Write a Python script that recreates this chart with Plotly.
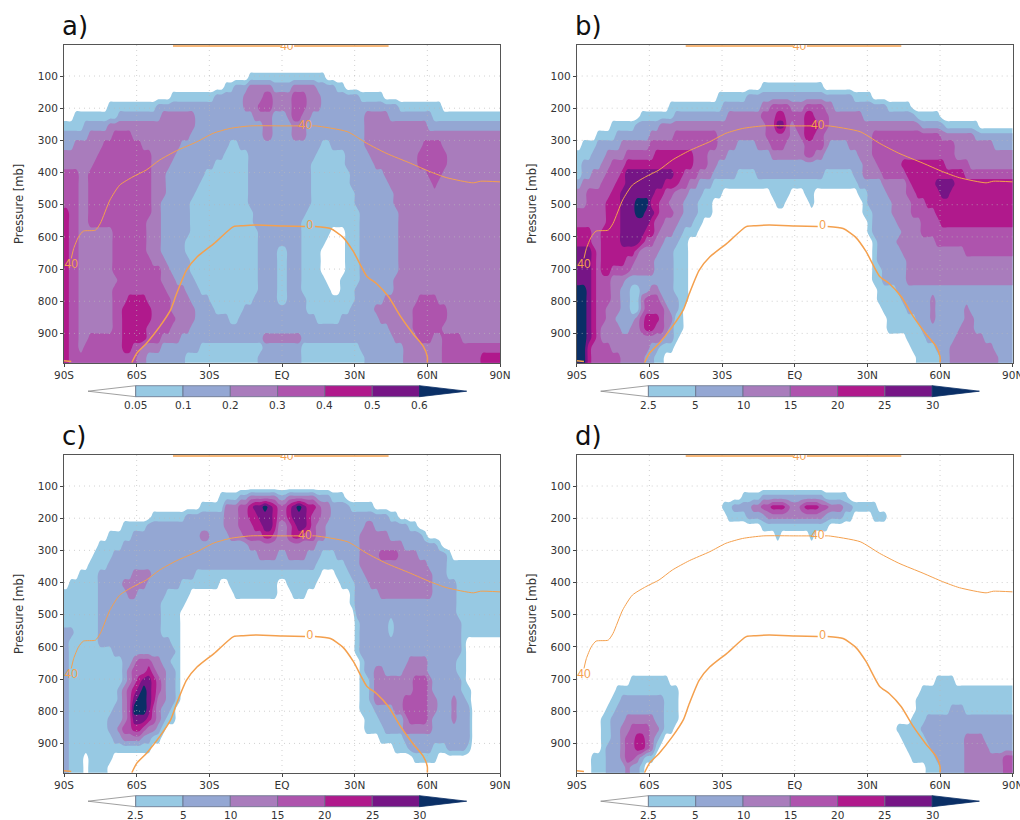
import plotly.graph_objects as go

# Each row is one pressure band; flat pairs "from this latitude onward, this colour bin" (0 = below lowest level)
PRESSURE_ROWS = [105 + 30 * i for i in range(30)]
LAT_CENTRES = list(range(-89, 90, 2))

RUNS_A = [
 [-14,1,18,0],
 [-24,1,-20,2,-14,3,-3,2,5,3,14,2,22,1,27,0],
 [-46,1,-28,2,-16,3,-8,4,-3,3,4,4,10,3,17,2,33,1,42,0],
 [-71,1,-52,2,-16,3,-9,4,-3,3,4,4,10,3,17,2,49,1,67,0],
 [-85,1,-68,2,-50,3,-35,2,-11,3,-3,2,3,3,5,4,9,3,12,2,34,3,44,2,62,1,90,1],
 [-90,1,-82,2,-71,3,-35,2,-8,3,-4,2,4,3,11,2,34,3,60,2,90,2],
 [-90,2,-79,3,-69,4,-62,3,-37,2,-8,3,-4,2,5,3,10,2,34,3,90,3],
 [-90,2,-85,3,-74,4,-57,3,-41,2,-21,1,-17,2,16,1,21,2,34,3,58,4,67,3,90,3],
 [-90,3,-76,4,-54,3,-44,2,-24,1,-14,2,14,1,26,2,37,3,56,4,69,3,90,3],
 [-90,3,-77,4,-53,3,-46,2,-28,1,-13,2,13,1,27,2,39,3,57,4,68,3,90,3],
 [-90,4,-83,3,-79,4,-53,3,-47,2,-31,1,-13,2,13,1,29,2,42,3,60,4,66,3,90,3],
 [-90,4,-83,3,-79,4,-53,3,-48,2,-33,1,-13,2,13,1,29,2,44,3,62,4,65,3,90,3],
 [-90,4,-83,3,-80,4,-53,3,-48,2,-36,1,-14,2,13,1,30,2,46,3,90,3],
 [-90,4,-83,3,-80,4,-54,3,-49,2,-37,1,-14,2,13,1,31,2,47,3,90,3],
 [-90,5,-88,4,-83,3,-80,4,-54,3,-49,2,-38,1,-12,2,11,1,32,2,48,3,90,3],
 [-90,5,-88,4,-83,3,-80,4,-55,3,-49,2,-38,1,-11,2,9,1,33,2,49,3,90,3],
 [-90,5,-88,4,-83,3,-69,4,-56,3,-49,2,-38,1,-9,2,8,1,20,0,26,1,33,2,49,3,90,3],
 [-90,5,-88,4,-83,3,-69,4,-56,3,-49,2,-39,1,-9,2,8,1,19,0,26,1,33,2,49,3,90,3],
 [-90,5,-88,4,-83,3,-69,4,-55,3,-49,2,-39,1,-9,2,-2,1,2,2,8,1,17,0,27,1,33,2,49,3,90,3],
 [-90,5,-88,4,-83,3,-69,4,-53,3,-47,2,-37,1,-10,2,-2,1,2,2,9,1,17,0,27,1,33,2,48,3,90,3],
 [-90,5,-88,4,-83,3,-69,4,-50,3,-45,2,-37,1,-10,2,-2,1,2,2,9,1,17,0,27,1,33,2,48,3,90,3],
 [-90,5,-88,4,-83,3,-68,4,-49,3,-43,2,-36,1,-10,2,-2,1,2,2,9,1,19,0,25,1,32,2,47,3,90,3],
 [-90,5,-88,4,-83,3,-69,4,-47,3,-40,2,-34,1,-10,2,-2,1,2,2,9,1,20,0,24,1,31,2,46,3,90,3],
 [-90,5,-88,4,-83,3,-69,4,-64,5,-56,4,-46,3,-37,2,-30,1,-12,2,-2,1,2,2,10,1,30,2,43,3,56,4,65,3,90,3],
 [-90,5,-88,4,-83,3,-69,4,-65,5,-53,4,-45,3,-36,2,-28,1,-15,2,11,1,29,2,38,3,54,4,68,3,90,3],
 [-90,5,-88,4,-83,3,-69,4,-66,5,-53,4,-44,3,-35,2,-21,1,-18,2,14,1,25,2,41,3,54,4,68,3,90,3],
 [-90,5,-88,4,-83,3,-69,4,-66,5,-55,4,-46,3,-38,2,45,3,55,4,67,3,90,3],
 [-90,5,-88,4,-84,3,-79,4,-66,5,-56,4,-50,3,-41,2,-8,3,8,2,46,3,56,4,62,3,67,4,74,3,90,3],
 [-90,5,-88,4,-84,3,-81,4,-65,5,-61,4,-57,3,-49,2,-34,1,-8,2,8,1,32,2,50,3,66,4,90,4],
 [-90,5,-88,4,-60,3,-56,2,-40,1,-9,2,8,1,34,2,51,3,66,4,82,5,90,5],
]

RUNS_B = [
 [],
 [-13,1,13,0],
 [-31,1,-20,2,24,1,32,0],
 [-51,1,-29,2,-13,3,-9,4,-2,3,4,4,12,3,17,2,38,1,48,0],
 [-64,1,-49,2,-28,3,-13,4,-8,5,-4,4,0,3,1,4,5,5,9,4,14,3,29,2,50,1,60,0],
 [-75,1,-66,2,-56,3,-12,4,-8,6,-4,4,-1,3,1,4,4,5,10,4,14,3,52,2,63,1,76,0],
 [-81,1,-73,2,-60,3,-50,4,-32,3,-11,4,-1,3,2,4,4,5,9,4,13,3,32,4,61,3,75,2,90,2],
 [-87,1,-81,2,-71,3,-60,4,-32,3,-23,2,-15,3,-9,4,-3,3,4,4,12,3,15,2,23,3,33,4,67,3,82,2,90,2],
 [-90,1,-84,2,-78,3,-70,4,-58,5,-42,4,-35,3,-28,2,-10,3,4,4,9,3,13,2,26,3,33,4,67,3,90,3],
 [-90,1,-87,2,-80,3,-76,4,-69,5,-42,4,-36,3,-31,2,28,3,34,4,44,5,62,4,72,3,90,3],
 [-90,1,-87,2,-83,3,-78,4,-72,5,-69,6,-50,5,-45,4,-39,3,-34,2,-28,2,-23,1,-15,2,13,1,24,2,28,3,36,4,46,5,71,4,90,4],
 [-90,2,-88,3,-80,4,-73,5,-69,6,-54,5,-47,4,-44,3,-39,2,-33,1,26,2,36,3,46,4,49,5,58,6,66,5,90,5],
 [-90,3,-86,4,-76,5,-71,6,-58,5,-53,4,-50,3,-43,2,-38,1,-29,0,-9,1,-1,0,4,1,9,0,27,1,30,2,38,3,46,4,51,5,60,6,65,5,90,5],
 [-90,3,-85,4,-77,5,-71,6,-66,7,-60,6,-59,5,-56,4,-52,3,-46,2,-40,1,-34,0,-7,1,-3,0,6,1,9,0,28,1,30,2,40,3,48,4,55,5,90,5],
 [-90,4,-78,5,-71,6,-66,7,-61,6,-58,5,-55,4,-50,3,-45,2,-39,1,-33,0,29,1,32,2,41,3,49,4,58,5,90,5],
 [-90,4,-78,5,-71,6,-60,5,-57,4,-53,3,-48,2,-42,1,-37,0,30,1,32,2,43,3,52,4,61,5,90,5],
 [-90,5,-84,4,-79,5,-71,6,-62,5,-58,4,-55,3,-50,2,-45,1,-40,0,30,1,32,2,45,3,53,4,90,4],
 [-90,5,-84,4,-79,5,-71,6,-64,5,-61,4,-58,3,-53,2,-47,1,-43,0,32,1,34,2,43,3,59,4,90,4],
 [-90,6,-84,5,-81,4,-79,5,-66,4,-63,3,-55,2,-49,1,-43,0,32,1,34,2,45,3,70,4,90,4],
 [-90,6,-84,5,-82,4,-79,5,-70,4,-65,3,-57,2,-49,1,-43,0,33,1,35,2,46,3,90,3],
 [-90,6,-84,5,-82,4,-79,5,-75,4,-68,3,-58,2,-50,1,-43,0,33,1,36,2,46,3,90,3],
 [-90,6,-84,5,-82,4,-75,3,-70,2,-50,1,-43,0,33,1,37,2,46,3,90,3],
 [-90,7,-86,6,-84,5,-82,4,-76,3,-71,2,-68,1,-63,2,-60,3,-56,2,-50,1,-44,0,34,1,43,2,90,2],
 [-90,7,-86,6,-84,5,-82,4,-76,3,-72,2,-68,1,-63,3,-61,4,-56,3,-53,2,-48,1,-44,0,35,1,44,2,56,3,59,2,90,2],
 [-90,7,-86,6,-84,5,-82,4,-77,3,-71,2,-68,1,-63,3,-61,4,-54,3,-52,2,-48,1,-45,0,36,1,47,2,56,3,59,2,70,3,73,2,90,2],
 [-90,7,-86,6,-84,5,-82,4,-78,3,-74,2,-66,3,-64,4,-61,5,-56,4,-53,3,-50,2,-49,1,-45,0,38,1,50,2,56,3,59,2,70,3,74,2,90,2],
 [-90,7,-86,6,-84,5,-82,4,-80,3,-72,2,-68,3,-63,4,-61,5,-57,4,-54,3,-52,2,-49,1,-46,0,39,1,52,2,69,3,75,2,90,2],
 [-90,7,-86,6,-84,5,-82,4,-79,3,-54,2,-50,1,-47,0,46,1,55,2,67,3,78,2,90,2],
 [-90,7,-86,5,-83,4,-76,3,-60,2,-55,1,-50,0,49,1,58,2,65,3,82,2,90,2],
 [-90,7,-86,5,-84,4,-72,3,-62,2,-58,1,-54,0,50,1,60,2,65,3,84,2,90,2],
]

RUNS_C = [
 [],
 [-25,1,-17,2,-13,3,-1,2,2,3,14,2,20,1,26,0],
 [-34,1,-23,3,-17,4,-14,5,-11,6,-8,7,-6,6,-3,5,-1,4,2,5,4,6,6,7,8,6,11,5,14,4,16,3,20,2,29,1,39,0],
 [-53,1,-39,2,-23,3,-17,4,-14,5,-10,6,-3,5,-1,4,3,5,4,6,10,5,13,4,16,3,20,2,44,1,49,0],
 [-65,1,-55,2,-23,3,-17,4,-12,5,-8,6,-3,5,-1,3,3,4,5,5,6,6,10,5,12,4,14,3,19,2,34,3,38,2,53,1,57,0],
 [-71,1,-62,2,-33,3,-29,2,-21,3,-15,4,-8,5,-3,4,-1,3,2,4,4,5,9,4,14,3,18,2,32,3,45,2,59,1,61,0],
 [-75,1,-66,2,-14,3,14,2,32,3,50,2,64,1,67,0],
 [-77,1,-70,2,-10,3,-2,2,2,3,11,2,17,1,23,2,32,3,40,4,48,3,57,2,68,1,71,0],
 [-80,1,-72,2,14,1,27,2,33,3,61,2,69,1,90,1],
 [-84,1,-75,2,-62,3,-54,2,-35,1,16,0,23,1,29,2,35,3,62,2,69,1,90,1],
 [-88,1,-76,2,-65,3,-55,2,-42,1,-26,0,-22,1,-2,0,3,1,14,0,24,1,30,2,37,3,62,2,73,1,90,1],
 [-90,1,-76,2,-63,3,-60,2,-47,1,-38,0,-19,1,-2,0,5,1,10,0,28,1,30,2,41,3,62,2,73,1,90,1],
 [-90,1,-76,2,-49,1,-40,0,29,1,31,2,73,1,90,1],
 [-90,1,-76,2,-50,1,-42,0,30,1,31,2,73,1,90,1],
 [-90,1,-76,2,-49,1,-42,0,31,1,32,2,44,1,47,2,74,1,90,1],
 [-90,2,-85,1,-76,2,-49,1,-42,0,31,1,32,2,44,1,47,2,75,1,90,1],
 [-90,2,-87,1,-76,2,-46,1,-42,0,31,1,33,2,74,1,76,0],
 [-90,2,-87,1,-70,2,-44,1,-42,0,31,1,33,2,74,1,77,0],
 [-90,2,-87,1,-65,2,-62,3,-59,4,-53,3,-49,2,-45,1,-42,0,32,1,34,2,53,3,60,2,72,1,76,0],
 [-90,2,-87,1,-66,2,-63,3,-61,4,-56,5,-54,4,-52,3,-48,2,-44,1,-42,0,32,1,34,2,38,3,42,2,50,3,60,2,73,1,77,0],
 [-90,2,-87,1,-66,2,-64,3,-61,4,-59,5,-57,6,-54,5,-52,4,-50,3,-47,2,-43,1,-42,0,32,1,36,2,38,3,55,4,60,3,62,2,74,1,77,0],
 [-90,2,-87,1,-67,2,-65,3,-63,4,-61,5,-60,6,-58,7,-55,6,-53,5,-52,4,-50,3,-47,2,-43,1,-42,0,32,1,36,2,39,3,54,4,61,3,63,2,75,1,78,0],
 [-90,2,-87,1,-68,2,-66,3,-64,4,-62,5,-61,6,-60,7,-55,6,-54,5,-52,4,-51,3,-47,2,-44,1,-42,0,33,1,37,2,39,3,51,4,60,3,64,2,70,3,72,2,76,1,78,0],
 [-90,2,-87,1,-70,2,-65,3,-63,4,-62,5,-61,7,-56,6,-54,5,-53,4,-52,3,-49,2,-45,1,-43,0,33,1,38,2,47,3,51,4,60,3,64,2,70,3,73,2,78,1,79,0],
 [-90,2,-87,1,-71,2,-66,3,-63,4,-62,5,-61,6,-56,5,-54,4,-52,3,-49,2,-47,1,-44,0,34,1,40,2,50,3,52,4,60,3,63,2,70,3,73,2,78,1,79,0],
 [-90,2,-87,1,-72,2,-68,3,-65,4,-62,5,-58,4,-55,3,-52,2,-49,1,-47,0,35,1,42,2,51,3,62,2,78,1,79,0],
 [-90,2,-87,1,-70,2,-66,3,-57,2,-53,1,-50,0,40,1,50,2,78,1,79,0],
 [-90,2,-87,1,-54,0,47,1,52,2,63,1,68,2,76,1,79,0],
 [-90,2,-87,1,-82,0,-80,1,-70,0,55,1,64,0],
 [-90,2,-87,1,-82,0,-79,1,-72,0],
]

RUNS_D = [
 [],
 [-22,1,-13,2,13,1,23,0],
 [-29,1,-25,2,-17,3,-13,4,-10,5,-4,4,-1,3,2,4,4,5,10,4,14,3,20,2,25,1,34,0],
 [-27,1,-20,2,-12,3,13,2,20,1,25,0,32,1,39,0],
 [-14,1,14,0],
 [-8,1,-5,0,6,1,9,0],
 [],[],[],[],[],[],[],[],[],[],[],[],[],[],
 [-68,1,-52,0,59,1,67,0],
 [-74,1,-47,0,52,1,90,1],
 [-76,1,-71,2,-53,1,-47,0,51,1,90,1],
 [-78,1,-73,2,-53,1,-48,0,50,1,65,2,70,1,90,1],
 [-79,1,-75,2,-69,3,-57,2,-54,1,-48,0,48,1,55,2,90,2],
 [-80,1,-76,2,-71,3,-68,4,-59,3,-56,2,-54,1,-50,0,43,1,53,2,90,2],
 [-80,1,-76,2,-72,3,-69,4,-66,5,-61,4,-59,3,-57,2,-55,1,-53,0,44,1,54,2,70,3,78,2,90,2],
 [-80,1,-77,2,-72,3,-69,4,-66,5,-61,4,-60,3,-58,1,-56,0,46,1,56,2,70,3,81,2,90,2],
 [-83,1,-78,2,-72,3,-69,4,-65,3,-63,2,-61,1,-58,0,49,1,58,2,70,3,86,4,90,4],
 [-84,1,-78,2,-70,3,-67,2,-63,1,-61,0,54,1,60,2,71,3,86,4,90,4],
]

BIN_COLORS = ["#97c9e3", "#94a7d3", "#a97cbc", "#ae54ad", "#b0198c", "#761586", "#0a2f66"]
LEVELS_A = ["0.05", "0.1", "0.2", "0.3", "0.4", "0.5", "0.6"]
LEVELS_OTHER = ["2.5", "5", "10", "15", "20", "25", "30"]

# -40 C isotherm, 0 C isotherm and its labels
T40_LAT = [-87,-86,-84,-82,-77,-75,-71,-67,-61.5,-56,-50.5,-43.5,-35,-28.4,-21.5,-13,0.5,7]
T40_P = [667,636,600,582,579,558,485,439,413,392,361,332,304,278,263,255,255,255]
T40B_LAT = [12.5,14,27,35,43,53,61,68,79,82,90]
T40B_P = [255,255,273,309,340,371,397,416,432,427,429]
T0_LAT = [-62,-60,-56,-50.5,-46,-43.5,-39.4,-35,-28,-20,-16,-10.5,0.5,9.5]
T0_P = [991,962,931,879,827,776,703,662,620,568,565,563,566,568]
T0B_LAT = [13.6,20,25,29.5,35,39,44,49,54,58.4,60,60]
T0B_P = [568,574,600,646,722,745,786,848,900,941,972,991]
TOP_LAT = [-45,-0.5]
TOP_P = [7,7]
TOPB_LAT = [5,44]
TOPB_P = [7,7]
CORNER_LAT = [-90,-87]
CORNER_P = [985,987]
LABEL_LAT = [9.5,-87,11.5,2]
LABEL_P = [255,688,567,9]
LABEL_TEXT = ["40","40","0","40"]

LAT_TICKS = [-90,-60,-30,0,30,60,90]
LAT_LABELS = ["90S","60S","30S","EQ","30N","60N","90N"]
P_TICKS = [100,200,300,400,500,600,700,800,900]

W, H = 1020, 820
PANEL_W, PANEL_H = 436, 317.7
ORIGINS = [(64, 45, "a)", RUNS_A, LEVELS_A), (576.7, 45, "b)", RUNS_B, LEVELS_OTHER),
           (64, 455, "c)", RUNS_C, LEVELS_OTHER), (576.7, 455, "d)", RUNS_D, LEVELS_OTHER)]
ORANGE = "#f4a04e"


def expand(row):
    out = [0] * len(LAT_CENTRES)
    pairs = [(row[i], row[i + 1]) for i in range(0, len(row), 2)]
    for i, (start, val) in enumerate(pairs):
        stop = pairs[i + 1][0] if i + 1 < len(pairs) else 91
        for c, mid in enumerate(LAT_CENTRES):
            if start <= mid < stop:
                out[c] = val
    return out


def grid(runs):
    rows = [expand(r) for r in runs]
    rows = [[0] * len(LAT_CENTRES)] + rows + [rows[-1]]
    return [[r[0]] + r + [r[-1]] for r in rows]


XG = [-90] + LAT_CENTRES + [90]
YG = [75] + PRESSURE_ROWS + [992]

ALL = ["#ffffff"] + BIN_COLORS
scale = [[0, ALL[0]]]
for i, col in enumerate(ALL):
    a = max(i - 0.5, 0) / 7
    b = min(i + 0.5, 7) / 7
    scale += [[a, col], [b, col]]
scale = scale[1:]

fig = go.Figure()
layout = dict(width=W, height=H, autosize=False, margin=dict(l=0, r=0, t=0, b=0, autoexpand=False),
              paper_bgcolor="white", plot_bgcolor="white", showlegend=False)
shapes, notes = [], []
px = lambda v: v / W
py = lambda v: 1 - v / H
TICK_FONT = dict(family="DejaVu Sans", size=10.5, color="#333333")

for n, (x0, y0, title, runs, levels) in enumerate(ORIGINS):
    sfx = "" if n == 0 else str(n + 1)
    xa, ya = "x" + sfx, "y" + sfx
    layout["xaxis" + sfx] = dict(domain=[px(x0), px(x0 + PANEL_W)], range=[-90, 90], anchor=ya, automargin=False,
                                 tickvals=LAT_TICKS, ticktext=LAT_LABELS, ticks="outside", ticklen=3,
                                 ticklabeloverflow="allow",
                                 tickcolor="#444", tickfont=TICK_FONT, showgrid=False, zeroline=False,
                                 showline=True, linecolor="#555555", linewidth=1, mirror=True)
    layout["yaxis" + sfx] = dict(domain=[py(y0 + PANEL_H), py(y0)], range=[991, 3.6], anchor=xa, automargin=False,
                                 tickvals=P_TICKS, ticks="outside", ticklen=3, tickcolor="#444",
                                 tickfont=TICK_FONT, showgrid=False, zeroline=False,
                                 showline=True, linecolor="#555555", linewidth=1, mirror=True)
    fig.add_trace(go.Contour(x=XG, y=YG, z=grid(runs), zmin=0, zmax=7, autocontour=False,
                             contours=dict(coloring="fill", start=0.5, end=6.5, size=1, showlines=False),
                             line=dict(width=0), colorscale=scale, showscale=False,
                             xaxis=xa, yaxis=ya, hoverinfo="skip"))
    # dotted grid lies over the shading
    gx, gy = [], []
    for t in LAT_TICKS[1:-1]:
        gx += [t, t, None]; gy += [3.6, 991, None]
    for t in P_TICKS:
        gx += [-90, 90, None]; gy += [t, t, None]
    fig.add_trace(go.Scatter(x=gx, y=gy, mode="lines", xaxis=xa, yaxis=ya, hoverinfo="skip",
                             line=dict(color="rgba(185,185,185,0.65)", width=1, dash="1px 4px")))
    for lx, ly, w in [(T40_LAT, T40_P, 1), (T40B_LAT, T40B_P, 1), (T0_LAT, T0_P, 1.5), (T0B_LAT, T0B_P, 1.5),
                      (TOP_LAT, TOP_P, 1.5), (TOPB_LAT, TOPB_P, 1.5), (CORNER_LAT, CORNER_P, 1.5)]:
        fig.add_trace(go.Scatter(x=lx, y=ly, mode="lines", xaxis=xa, yaxis=ya, hoverinfo="skip",
                                 line=dict(color=ORANGE, width=w, shape="spline", smoothing=0.6), cliponaxis=True))
    fig.add_trace(go.Scatter(x=LABEL_LAT, y=LABEL_P, text=LABEL_TEXT, mode="text", xaxis=xa, yaxis=ya,
                             textfont=dict(family="Liberation Sans", size=12, color=ORANGE),
                             hoverinfo="skip", cliponaxis=True))
    notes.append(dict(text=title, x=px(x0 - 4), y=py(y0 - 19), xref="paper", yref="paper", showarrow=False,
                      xanchor="left", yanchor="middle", font=dict(family="DejaVu Sans", size=26, color="#111")))
    notes.append(dict(text="Pressure [mb]", x=px(x0 - 45), y=py(y0 + 159), xref="paper", yref="paper",
                      showarrow=False, textangle=-90, xanchor="center", yanchor="middle",
                      font=dict(family="DejaVu Sans", size=11.5, color="#333")))
    # colour key under the panel
    top, bot = y0 + PANEL_H + 23, y0 + PANEL_H + 34
    mid = (top + bot) / 2
    step = 47.3
    sx = x0 + 71.7
    edge = "#667088"
    tri = lambda a, b: f"M {px(a)} {py(top)} L {px(b)} {py(mid)} L {px(a)} {py(bot)} Z"
    shapes.append(dict(type="path", xref="paper", yref="paper", path=tri(sx, x0 + 24),
                       fillcolor="white", line=dict(color="#888888", width=0.8)))
    for k in range(6):
        shapes.append(dict(type="rect", xref="paper", yref="paper", x0=px(sx + k * step), x1=px(sx + (k + 1) * step),
                           y0=py(bot), y1=py(top), fillcolor=BIN_COLORS[k], line=dict(color=edge, width=0.8)))
    shapes.append(dict(type="path", xref="paper", yref="paper", path=tri(sx + 6 * step, x0 + 402.7),
                       fillcolor=BIN_COLORS[6], line=dict(color=BIN_COLORS[6], width=0.8)))
    for k, lab in enumerate(levels):
        notes.append(dict(text=lab, x=px(sx + k * step), y=py(y0 + PANEL_H + 42.5), xref="paper", yref="paper",
                          showarrow=False, xanchor="center", yanchor="middle",
                          font=dict(family="DejaVu Sans", size=10.5, color="#333")))

layout["shapes"] = shapes
layout["annotations"] = notes
fig.update_layout(**layout)
fig.write_html("out.html", config=dict(displayModeBar=False), default_width="1020px", default_height="820px",
               post_script="document.body.style.margin='0';document.body.style.overflow='hidden';")
